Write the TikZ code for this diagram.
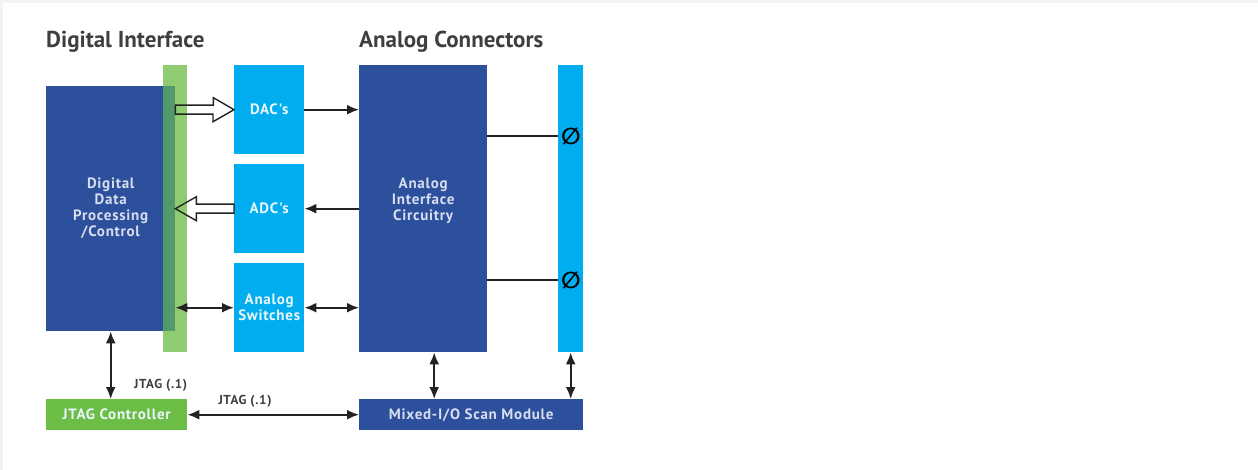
\documentclass[tikz,border=0pt]{standalone}
\usepackage{fontspec}
\setmainfont{PT Sans}
\newfontfamily\boxfont[LetterSpace=5]{PT Sans}
\newfontfamily\symfont{DejaVu Sans}
\usetikzlibrary{arrows.meta,calc}

\definecolor{darkblue}{HTML}{2C509B}
\definecolor{cyanblue}{HTML}{00AEEF}
\definecolor{bargreen}{HTML}{8FCB70}
\definecolor{overlapgreen}{HTML}{529A6B}
\definecolor{jtaggreen}{HTML}{6CBD45}
\definecolor{bluetext}{HTML}{D8DEF0}
\definecolor{cyantext}{HTML}{EAF6FC}
\definecolor{titlegray}{HTML}{3F3F3F}
\definecolor{arrowgray}{HTML}{222222}
\definecolor{framegray}{HTML}{F2F4F3}

\tikzset{
  block/.style={anchor=north west, inner sep=0pt, align=center,
    font=\boxfont\fontsize{15}{16}\selectfont\bfseries},
  dark/.style={block, fill=darkblue, text=bluetext},
  light/.style={block, fill=cyanblue, text=cyantext},
  con/.style={line width=2pt, draw=arrowgray, -{Latex[length=12pt,width=10pt]}},
  dcon/.style={con, {Latex[length=12pt,width=10pt]}-{Latex[length=12pt,width=10pt]}},
  hollow/.style={draw=arrowgray, line width=1.4pt, line join=miter},
  lbl/.style={font=\boxfont\fontsize{13}{15}\selectfont\bfseries, text=titlegray, inner sep=0pt},
  title/.style={font=\fontsize{23}{26}\selectfont\bfseries, text=titlegray, inner sep=0pt, anchor=base west}
}

\begin{document}
\begin{tikzpicture}[x=1pt, y=-1pt]

\useasboundingbox (0,0) rectangle (1258,470);
\fill[framegray] (0,0) rectangle (1258,3);
\fill[framegray] (0,0) rectangle (3,470);

\node[title] (ditxt) at (46,48) {Digital Interface};
\node[title] (actxt) at (359,48) {Analog Connectors};

% digital side
\node[block, fill=bargreen, minimum width=24pt, minimum height=287pt] (dibar) at (163,65) {};
\node[dark, minimum width=129pt, minimum height=245pt] (ddp) at (46,86) {Digital\\Data\\Processing\\/Control};
\fill[overlapgreen] (ddp.north east) rectangle (dibar.west |- ddp.south);

\node[light, minimum width=70pt, minimum height=89pt] (dac) at (234,65) {DAC's};
\node[light, minimum width=70pt, minimum height=89pt] (adc) at (234,164) {ADC's};
\node[light, minimum width=70pt, minimum height=89pt] (sw) at (234,263) {Analog\\Switches};

% analog side
\node[dark, minimum width=128pt, minimum height=287pt] (aic) at (359,65) {};
\node[block, text=bluetext, anchor=center] (aictxt) at ([yshift=8pt]aic.center) {Analog\\Interface\\Circuitry};
\node[block, fill=cyanblue, minimum width=25pt, minimum height=287pt] (conn) at (558,65) {};
\node[font=\symfont\bfseries\fontsize{23}{23}\selectfont, inner sep=0pt] (s1) at (571,136) {∅};
\node[font=\symfont\bfseries\fontsize{23}{23}\selectfont, inner sep=0pt] (s2) at (571,280) {∅};

\node[block, fill=jtaggreen, text=cyantext, minimum width=141pt, minimum height=31pt] (jtag) at (46,399) {JTAG Controller};
\node[dark, minimum width=224pt, minimum height=31pt] (scan) at (359,399) {Mixed-I/O Scan Module};

% wide arrows
\draw[hollow] ($(ddp.east |- dac.west)+(0,-4.5)$) -- ++(38,0) -- ++(0,-7.5) -- (dac.west)
  -- ($(dac.west)+(-21,12)$) -- ++(0,-7.5) -- ($(ddp.east |- dac.west)+(0,4.5)$) -- cycle;
\draw[hollow] (ddp.east |- adc.west) -- ++(21,-12) -- ++(0,7.5) -- ($(adc.west)+(0,-4.5)$)
  -- ($(adc.west)+(0,4.5)$) -- ($(ddp.east |- adc.west)+(21,4.5)$) -- ++(0,7.5) -- cycle;

% connectors
\draw[con] (dac.east) -- (aic.west |- dac.east);
\draw[con] (aic.west |- adc.east) -- (adc.east);
\draw[dcon] (ddp.east |- sw.west) -- (sw.west);
\draw[dcon] (sw.east) -- (aic.west |- sw.east);
\draw[line width=2pt, arrowgray] (aic.east |- s1) -- (conn.west |- s1);
\draw[line width=2pt, arrowgray] (aic.east |- s2) -- (conn.west |- s2);

\draw[dcon] (ddp.south) -- (ddp.south |- jtag.north);
\draw[dcon] ([xshift=11pt]aic.south) -- ([xshift=11pt]aic.south |- scan.north);
\draw[dcon] (conn.south) -- (conn.south |- scan.north);
\draw[dcon] (jtag.east) -- (scan.west);

\node[lbl, anchor=south east] (jl1) at ([yshift=7pt]jtag.north east) {JTAG (.1)};
\node[lbl, anchor=south] (jl2) at (245,408) {JTAG (.1)};

\end{tikzpicture}
\end{document}
